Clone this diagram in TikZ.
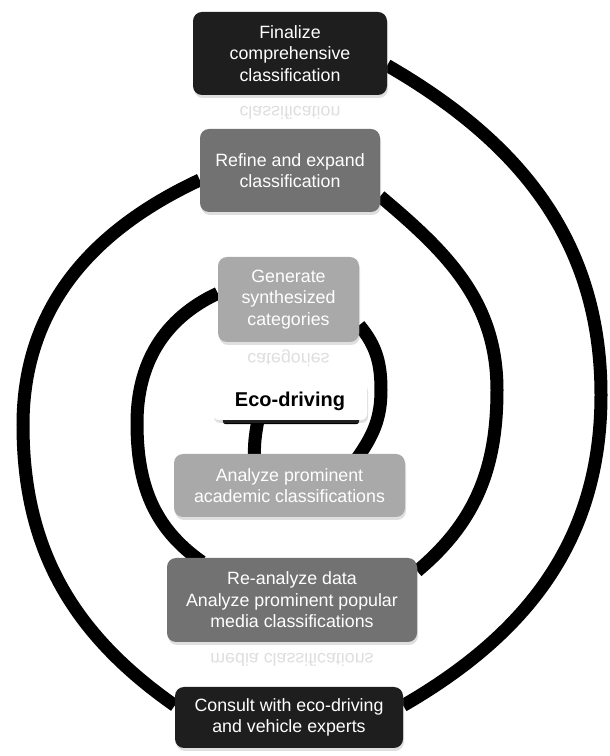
\documentclass[tikz,border=0pt]{standalone}
\usepackage{fontspec}
\setmainfont{Liberation Sans}
\usetikzlibrary{%
  calc,%
  shadows,% wg. drop shadow
  backgrounds,%
  positioning%
}

\definecolor{boxdark}{HTML}{1E1E1E}
\definecolor{boxmid}{HTML}{727272}
\definecolor{boxlight}{HTML}{A9A9A9}

\begin{document}
\begin{tikzpicture}
  [
  x=1pt, y=1pt,
  font=\fontsize{17.8}{21.5}\selectfont,
  stepnode/.style={rectangle, rounded corners=9pt, align=center, text=white, inner sep=0pt,
    drop shadow={opacity=0.25, shadow xshift=1pt, shadow yshift=-3pt}},
  darknode/.style={stepnode, fill=boxdark},
  midnode/.style={stepnode, fill=boxmid},
  lightnode/.style={stepnode, fill=boxlight},
  ringline/.style={draw=black, line width=13pt},
  mirror/.style={anchor=base, text=black!13, inner sep=0pt},
  ]
  \useasboundingbox (0,0) rectangle (610,756);

  \node[darknode, minimum width=194, minimum height=83] (finalize) at (290,702.5)
    {Finalize\\comprehensive\\classification};
  \node[midnode, minimum width=180, minimum height=83] (refine) at (290,585.5)
    {Refine and expand\\classification};
  \node[lightnode, minimum width=141, minimum height=85] (generate) at (288.5,456.5)
    {Generate\\synthesized\\categories};
  \node[stepnode, fill=white, text=black, rounded corners=6pt, minimum width=154, minimum height=38,
    font=\fontsize{20}{23}\selectfont\bfseries] (eco) at (290,355) {Eco-driving};
  \node[lightnode, minimum width=231, minimum height=63] (academic) at (289.5,270.5)
    {Analyze prominent\\academic classifications};
  \node[midnode, minimum width=250, minimum height=84] (reanalyze) at (292,156)
    {Re-analyze data\\Analyze prominent popular\\media classifications};
  \node[darknode, minimum width=228, minimum height=61] (consult) at (289,38.5)
    {Consult with eco-driving\\and vehicle experts};

  \coordinate (r1) at (381,366);
  \coordinate (l1) at (137,333);
  \coordinate (r2) at (497,366);
  \coordinate (l2) at (23,331);
  \coordinate (r3) at (601,361);

  \begin{pgfonlayer}{background}
    \fill[black, rounded corners=3pt] ($(eco.south west)+(10,-4)$) rectangle ($(eco.south east)+(-8,8)$);
    \draw[ringline] ($(eco.south)+(-31,6)$) to[out=-100,in=92] ($(academic.north)+(-35,-4)$);
    \draw[ringline] ($(academic.north)+(68,-4)$) to[out=55,in=-90] (r1)
      to[out=90,in=-50] (generate.-20);
    \draw[ringline] (generate.175) to[out=205,in=90] (l1)
      to[out=-90,in=145] ($(reanalyze.north west)+(35,-4)$);
    \draw[ringline] (reanalyze.13) to[out=40,in=-90] (r2)
      to[out=90,in=-40] (refine.-16);
    \draw[ringline] (refine.186) to[out=205,in=90] (l2)
      to[out=-90,in=145] (consult.174);
    \draw[ringline] (consult.6) to[out=30,in=-90] (r3)
      to[out=90,in=-30] (finalize.-7);
  \end{pgfonlayer}

  \begin{scope}
    \clip ($(finalize.south west)+(0,-5)$) rectangle ($(finalize.south east)+(0,-24)$);
    \node[mirror] (finalizemirror) at ($(finalize.south)+(0,-11)$) {\scalebox{1}[-1]{classification}};
  \end{scope}
  \begin{scope}
    \clip ($(generate.south west)+(0,-5)$) rectangle ($(generate.south east)+(0,-24)$);
    \node[mirror] (generatemirror) at ($(generate.south)+(0,-11)$) {\scalebox{1}[-1]{categories}};
  \end{scope}
  \begin{scope}
    \clip ($(reanalyze.south west)+(0,-5)$) rectangle ($(reanalyze.south east)+(0,-24)$);
    \node[mirror] (reanalyzemirror) at ($(reanalyze.south)+(0,-11)$) {\scalebox{1}[-1]{media classifications}};
  \end{scope}
\end{tikzpicture}
\end{document}
